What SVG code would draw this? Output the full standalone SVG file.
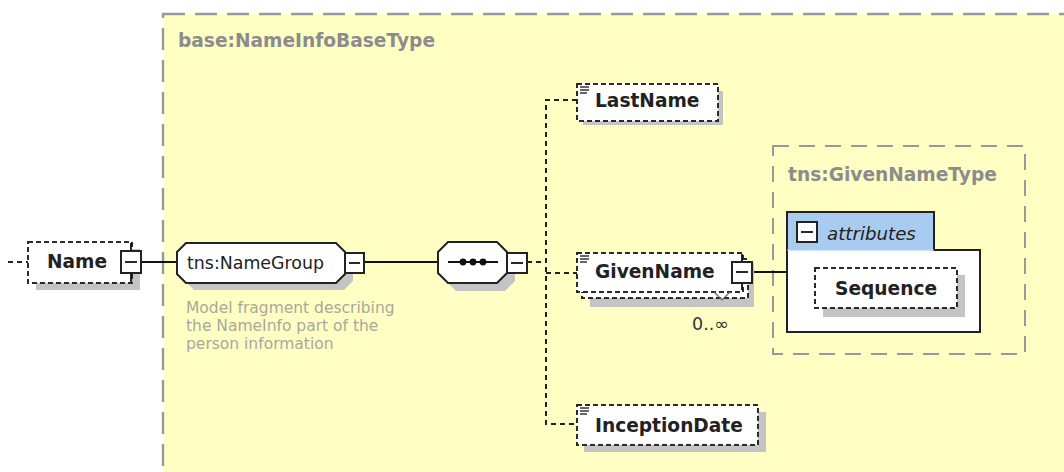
<svg xmlns="http://www.w3.org/2000/svg" width="1064" height="472" viewBox="0 0 1064 472">
<style>
.txt{font-family:"DejaVu Sans",sans-serif;}
.name{font-family:"DejaVu Sans",sans-serif;font-weight:bold;font-size:18.6px;fill:#222;}
.title{font-family:"DejaVu Sans",sans-serif;font-weight:bold;font-size:18.6px;fill:#8c8c8c;}
.desc{font-family:"DejaVu Sans",sans-serif;font-size:15.5px;fill:#a9a99a;}
.shadow{fill:#c4c4c4;stroke:none;}
.elem{fill:#ffffff;stroke:#2a2a2a;stroke-width:2;stroke-dasharray:5 3;}
.btn{fill:#ffffff;stroke:#222;stroke-width:2;}
.solid{fill:#ffffff;stroke:#222;stroke-width:2;}
.conn{stroke:#111;stroke-width:1.8;fill:none;}
.dconn{stroke:#222;stroke-width:2;stroke-dasharray:5 4;fill:none;}
.ico{stroke:#333;stroke-width:1.5;}
</style>
<rect x="0" y="0" width="1064" height="472" fill="#ffffff"/>
<g id="base-type">
<rect x="163" y="14" width="930" height="480" fill="#ffffc4" stroke="#999" stroke-width="2.4" stroke-dasharray="22 10"/>
<text class="title" x="178" y="47">base:NameInfoBaseType</text>
</g>
<g id="given-name-type">
<rect x="773" y="146" width="252" height="208" fill="none" stroke="#999" stroke-width="2" stroke-dasharray="16 10"/>
<text class="title" x="788" y="181">tns:GivenNameType</text>
</g>
<g id="connectors">
<line class="dconn" x1="8" y1="262" x2="28" y2="262"/>
<line class="conn" x1="141" y1="262" x2="177" y2="262"/>
<line class="conn" x1="364" y1="262" x2="438" y2="262"/>
<line class="dconn" x1="527" y1="262" x2="546" y2="262"/>
<polyline class="dconn" points="577,100 546,100 546,424 577,424"/>
<line class="dconn" x1="546" y1="273" x2="577" y2="273"/>
<line class="conn" x1="752" y1="272" x2="787" y2="272"/>
</g>
<g id="name">
<rect class="shadow" x="36" y="249" width="104" height="41"/>
<rect class="elem" x="28" y="242" width="104" height="41"/>
<text class="name" x="47" y="268">Name</text>
<line class="conn" x1="131" y1="243" x2="131" y2="251"/>
<line class="conn" x1="131" y1="273" x2="131" y2="282"/>
<rect class="btn" x="121" y="251" width="20" height="22"/>
<line class="conn" x1="125" y1="262" x2="137" y2="262"/>
</g>
<g id="name-group">
<polygon class="shadow" points="194,250 344,250 353,259 353,281 344,290 194,290 185,281 185,259"/>
<polygon class="solid" points="186,243 336,243 345,252 345,274 336,283 186,283 177,274 177,252"/>
<text class="txt" x="187" y="269" font-size="17.4" fill="#222">tns:NameGroup</text>
<rect class="btn" x="345" y="253" width="19" height="20"/>
<line class="conn" x1="349" y1="263" x2="360" y2="263"/>
<text class="desc" x="186" y="313">Model fragment describing</text>
<text class="desc" x="186" y="331">the NameInfo part of the</text>
<text class="desc" x="186" y="349">person information</text>
</g>
<g id="sequence">
<polygon class="shadow" points="456,250 505,250 515,260 515,281 505,291 456,291 446,281 446,260"/>
<polygon class="solid" points="448,242 497,242 507,252 507,273 497,283 448,283 438,273 438,252"/>
<line class="conn" x1="448" y1="262" x2="498" y2="262"/>
<circle cx="463" cy="262" r="3.4" fill="#111"/>
<circle cx="473" cy="262" r="3.4" fill="#111"/>
<circle cx="483" cy="262" r="3.4" fill="#111"/>
<rect class="btn" x="507" y="253" width="20" height="20"/>
<line class="conn" x1="511" y1="263" x2="523" y2="263"/>
</g>
<g id="last-name">
<rect class="shadow" x="583" y="91" width="140" height="34"/>
<rect class="elem" x="577" y="84" width="141" height="37"/>
<line class="ico" x1="580" y1="87" x2="589" y2="87"/>
<line class="ico" x1="580" y1="90" x2="589" y2="90"/>
<line class="ico" x1="580" y1="93" x2="587" y2="93"/>
<text class="name" x="595" y="107">LastName</text>
</g>
<g id="given-name">
<rect class="shadow" x="590" y="263" width="164" height="44"/>
<rect class="elem" x="582" y="259" width="166" height="39"/>
<rect class="elem" x="577" y="253" width="166" height="39"/>
<line class="ico" x1="580" y1="256" x2="589" y2="256"/>
<line class="ico" x1="580" y1="259" x2="589" y2="259"/>
<line class="ico" x1="580" y1="262" x2="587" y2="262"/>
<text class="name" x="595" y="278">GivenName</text>
<polyline points="714,292 722,300 730,292" fill="none" stroke="#666" stroke-width="1.2"/>
<line class="conn" x1="742" y1="254" x2="742" y2="262"/>
<line class="conn" x1="742" y1="283" x2="742" y2="290"/>
<rect class="btn" x="732" y="262" width="20" height="21"/>
<line class="conn" x1="736" y1="272" x2="748" y2="272"/>
<text class="txt" x="692" y="330" font-size="17.5" fill="#333">0..∞</text>
</g>
<g id="inception-date">
<rect class="shadow" x="584" y="412" width="182" height="40"/>
<rect class="elem" x="577" y="405" width="181" height="40"/>
<line class="ico" x1="580" y1="408" x2="589" y2="408"/>
<line class="ico" x1="580" y1="411" x2="589" y2="411"/>
<line class="ico" x1="580" y1="414" x2="587" y2="414"/>
<text class="name" x="595" y="432">InceptionDate</text>
</g>
<g id="attributes">
<path d="M787,212 H934 V250 H980 V332 H787 Z" fill="#ffffff" stroke="#222" stroke-width="2"/>
<rect x="788" y="213" width="145" height="37" fill="#a9cbef"/>
<line x1="787" y1="250" x2="934" y2="250" stroke="#a9cbef" stroke-width="1"/>
<rect class="btn" x="797" y="222" width="20" height="20"/>
<line class="conn" x1="801" y1="232" x2="813" y2="232"/>
<text class="txt" x="827" y="240" font-size="18.2" font-style="italic" fill="#222">attributes</text>
</g>
<g id="sequence-attr">
<rect class="shadow" x="823" y="275" width="142" height="42"/>
<rect class="elem" x="815" y="268" width="142" height="40"/>
<text class="name" x="835" y="295">Sequence</text>
</g>
</svg>
